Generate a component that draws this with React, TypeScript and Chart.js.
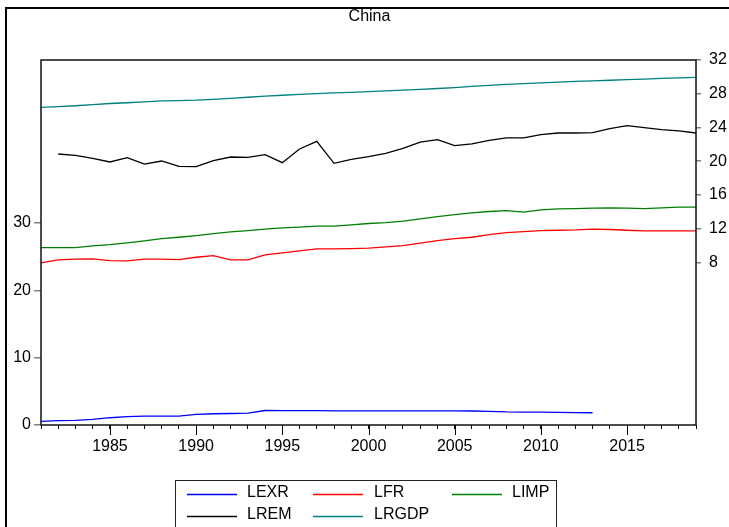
import React, { useEffect, useRef } from "react";
import { Chart, registerables } from "chart.js";

Chart.register(...registerables);

const years = [
  1981, 1982, 1983, 1984, 1985, 1986, 1987, 1988, 1989, 1990,
  1991, 1992, 1993, 1994, 1995, 1996, 1997, 1998, 1999, 2000,
  2001, 2002, 2003, 2004, 2005, 2006, 2007, 2008, 2009, 2010,
  2011, 2012, 2013, 2014, 2015, 2016, 2017, 2018, 2019,
];

const lexr = [
  0.53, 0.64, 0.68, 0.84, 1.08, 1.24, 1.31, 1.31, 1.33, 1.57,
  1.67, 1.71, 1.75, 2.15, 2.12, 2.12, 2.12, 2.11, 2.11, 2.11,
  2.11, 2.11, 2.11, 2.11, 2.10, 2.08, 2.03, 1.94, 1.92, 1.91,
  1.87, 1.84, 1.82, null, null, null, null, null, null,
];

const lfr = [
  24.07, 24.52, 24.62, 24.67, 24.42, 24.37, 24.62, 24.62, 24.57, 24.91,
  25.16, 24.52, 24.52, 25.26, 25.56, 25.85, 26.15, 26.15, 26.2, 26.25,
  26.45, 26.64, 27.0, 27.39, 27.68, 27.88, 28.28, 28.57, 28.72, 28.87,
  28.92, 28.97, 29.08, 29.03, 28.92, 28.82, 28.82, 28.82, 28.82,
];

const limp = [
  26.35, 26.35, 26.35, 26.6, 26.79, 27.04, 27.34, 27.68, 27.88, 28.13,
  28.43, 28.67, 28.87, 29.08, 29.28, 29.38, 29.52, 29.52, 29.72, 29.92,
  30.06, 30.26, 30.61, 30.95, 31.25, 31.5, 31.7, 31.84, 31.6, 31.94,
  32.09, 32.14, 32.19, 32.24, 32.19, 32.14, 32.24, 32.34, 32.34,
];

const lrem = [
  null, 20.85, 20.69, 20.34, 19.9, 20.41, 19.66, 20.02, 19.39, 19.35,
  20.06, 20.49, 20.46, 20.77, 19.82, 21.44, 22.35, 19.74, 20.22, 20.53,
  20.93, 21.52, 22.27, 22.55, 21.84, 22.04, 22.47, 22.75, 22.75, 23.14,
  23.34, 23.34, 23.38, 23.85, 24.21, 23.97, 23.74, 23.58, 23.34,
];

const lrgdp = [
  26.39, 26.47, 26.57, 26.71, 26.84, 26.93, 27.04, 27.15, 27.19, 27.23,
  27.32, 27.45, 27.58, 27.71, 27.82, 27.92, 28.01, 28.09, 28.16, 28.25,
  28.33, 28.42, 28.52, 28.62, 28.73, 28.86, 29.0, 29.1, 29.19, 29.29,
  29.38, 29.46, 29.53, 29.6, 29.67, 29.74, 29.81, 29.87, 29.93,
];

const leftTicks = [0, 10, 20, 30];
const rightTicks = [8, 12, 16, 20, 24, 28, 32];
const titleText = "China";

const FONT = '"Liberation Sans", Arial, sans-serif';
const FS = 16;

const seriesDefs = [
  { label: "LEXR", data: lexr, color: "#0000FF", axis: "yL" },
  { label: "LFR", data: lfr, color: "#FF0000", axis: "yL" },
  { label: "LIMP", data: limp, color: "#008000", axis: "yL" },
  { label: "LREM", data: lrem, color: "#000000", axis: "yR" },
  { label: "LRGDP", data: lrgdp, color: "#008080", axis: "yR" },
];

const decorPlugin = {
  id: "decor",
  beforeDraw(chart: any) {
    const ctx = chart.ctx;
    ctx.save();
    ctx.fillStyle = "#ffffff";
    ctx.fillRect(0, 0, chart.width, chart.height);
    ctx.restore();
  },
  afterDraw(chart: any) {
    const ctx = chart.ctx;
    const a = chart.chartArea;
    ctx.save();
    // outer frame
    ctx.strokeStyle = "#000";
    ctx.lineWidth = 2;
    ctx.beginPath();
    ctx.moveTo(6, chart.height + 5);
    ctx.lineTo(6, 8);
    ctx.lineTo(chart.width + 5, 8);
    ctx.stroke();
    // title
    ctx.fillStyle = "#000";
    ctx.font = `${FS}px ${FONT}`;
    ctx.textAlign = "center";
    ctx.textBaseline = "middle";
    ctx.fillText(titleText, (a.left + a.right) / 2 + 1, 17);
    // plot frame
    ctx.lineWidth = 1.5;
    ctx.strokeStyle = "#111";
    ctx.strokeRect(a.left, a.top, a.right - a.left, a.bottom - a.top);
    // major x ticks
    const xs = chart.scales.x;
    ctx.lineWidth = 1;
    ctx.strokeStyle = "#000";
    years.forEach((yr) => {
      if (yr % 5 === 0) {
        const px = Math.round(xs.getPixelForValue(yr)) + 0.5;
        ctx.beginPath();
        ctx.moveTo(px, a.bottom);
        ctx.lineTo(px, a.bottom + 10);
        ctx.stroke();
      }
    });
    // legend
    const bx = 175.5, by = 480.5, bw = 381, bh = 60;
    ctx.strokeStyle = "#222";
    ctx.lineWidth = 1;
    ctx.strokeRect(bx, by, bw, bh);
    const lineX = [187, 313, 452];
    const textX = [247, 374, 512];
    const rowY = [493, 515];
    ctx.textAlign = "left";
    ctx.textBaseline = "middle";
    ctx.font = `${FS}px ${FONT}`;
    seriesDefs.forEach((s, i) => {
      const col = i % 3;
      const row = Math.floor(i / 3);
      const y = rowY[row] + 0.5;
      ctx.strokeStyle = s.color;
      ctx.lineWidth = 1.3;
      ctx.beginPath();
      ctx.moveTo(lineX[col], y + 1);
      ctx.lineTo(lineX[col] + 50, y + 1);
      ctx.stroke();
      ctx.fillStyle = "#000";
      ctx.fillText(s.label, textX[col], rowY[row]);
    });
    ctx.restore();
  },
};

export default function App() {
  const ref = useRef<HTMLCanvasElement | null>(null);

  useEffect(() => {
    document.body.style.margin = "0";
    const canvas = ref.current;
    if (!canvas) return;
    const chart = new Chart(canvas, {
      type: "line",
      data: {
        datasets: seriesDefs.map((s) => ({
          label: s.label,
          data: years.map((yr, i) => ({ x: yr, y: s.data[i] })),
          borderColor: s.color,
          backgroundColor: s.color,
          borderWidth: 1.3,
          pointRadius: 0,
          tension: 0,
          spanGaps: false,
          yAxisID: s.axis,
        })),
      },
      options: {
        animation: false,
        responsive: false,
        devicePixelRatio: 1,
        layout: { padding: { top: 60, left: 0, right: 0, bottom: 0 } },
        plugins: {
          legend: { display: false },
          title: { display: false },
          tooltip: { enabled: false },
        },
        scales: {
          x: {
            type: "linear",
            min: 1981,
            max: 2019,
            border: { display: false },
            grid: {
              drawOnChartArea: false,
              drawTicks: true,
              tickLength: 4,
              color: "#000",
              lineWidth: 1,
            },
            afterBuildTicks: (scale: any) => {
              scale.ticks = years.map((v) => ({ value: v }));
            },
            ticks: {
              autoSkip: false,
              maxRotation: 0,
              padding: 8,
              color: "#000",
              font: { family: FONT, size: FS },
              callback: (v: any) => (Number(v) % 5 === 0 ? String(v) : ""),
            },
            afterFit: (scale: any) => {
              scale.height = 102;
            },
          },
          yL: {
            type: "linear",
            position: "left",
            min: 0,
            max: 54.2,
            border: { display: false },
            grid: {
              drawOnChartArea: false,
              tickLength: 7,
              color: "#808080",
              lineWidth: 1.5,
            },
            afterBuildTicks: (scale: any) => {
              scale.ticks = leftTicks.map((v) => ({ value: v }));
            },
            ticks: {
              padding: 3,
              color: "#000",
              font: { family: FONT, size: FS },
            },
            afterFit: (scale: any) => {
              scale.width = 41;
            },
          },
          yR: {
            type: "linear",
            position: "right",
            min: -11.3,
            max: 32,
            border: { display: false },
            grid: {
              drawOnChartArea: false,
              tickLength: 5,
              color: "#808080",
              lineWidth: 1.5,
            },
            afterBuildTicks: (scale: any) => {
              scale.ticks = rightTicks.map((v) => ({ value: v }));
            },
            ticks: {
              padding: 8,
              color: "#000",
              font: { family: FONT, size: FS },
            },
            afterFit: (scale: any) => {
              scale.width = 33;
            },
          },
        },
      },
      plugins: [decorPlugin],
    });
    return () => chart.destroy();
  }, []);

  return (
    <div style={{ position: "absolute", left: 0, top: 0, width: 729, height: 527 }}>
      <canvas ref={ref} width={729} height={527} style={{ display: "block" }} />
    </div>
  );
}
